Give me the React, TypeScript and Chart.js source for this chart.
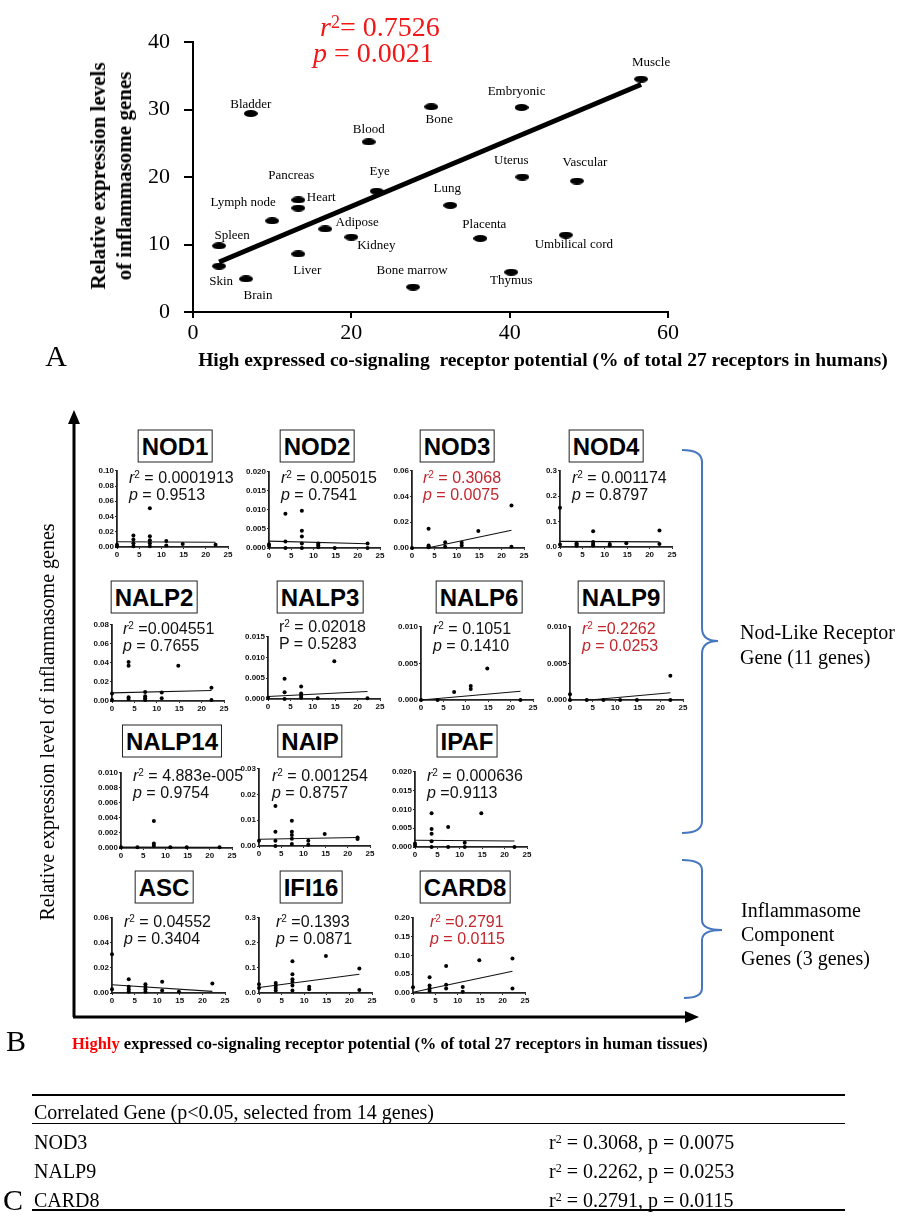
import React, { useEffect, useRef } from 'react';
import { Chart, registerables } from 'chart.js';

Chart.register(...registerables);

const SERIF = '"Liberation Serif", "Times New Roman", Times, serif';
const SANS = '"Liberation Sans", Arial, Helvetica, sans-serif';
const RED_A = '#f01818';
const RED_B = '#c1272d';
const BLUE = '#4677c0';

// ---------------- Panel A data ----------------
const tissueNames = ['Muscle', 'Embryonic', 'Bone', 'Bladder', 'Blood', 'Uterus', 'Vascular', 'Eye', 'Heart', 'Pancreas', 'Lung', 'Lymph node', 'Adipose', 'Kidney', 'Placenta', 'Umbilical cord', 'Spleen', 'Liver', 'Skin', 'Brain', 'Thymus', 'Bone marrow'];
const receptorPotential = [56.6, 41.5, 30.1, 7.3, 22.2, 41.6, 48.5, 23.2, 13.3, 13.3, 32.5, 10.0, 16.7, 20.0, 36.3, 47.1, 3.3, 13.3, 3.3, 6.7, 40.2, 27.8];
const inflammasomeLevel = [34.5, 30.3, 30.4, 29.4, 25.2, 20.0, 19.4, 17.9, 16.6, 15.4, 15.8, 13.5, 12.3, 11.1, 10.9, 11.4, 9.8, 8.6, 6.8, 4.9, 5.9, 3.7];
const fitLineX = [3.3, 56.6];
const fitLineY = [7.4, 33.7];
const panelAXTicks = [0, 20, 40, 60];
const panelAYTicks = [0, 10, 20, 30, 40];

// label offsets in px (layout only)
const tissueLabelOffsets: [number, number][] = [
  [10, -17], [-5, -16], [8, 13], [0, -9], [0, -12], [-11, -16], [8, -18], [3, -20], [23, -2], [-7, -32],
  [-3, -17], [-29, -18], [32, -6], [25, 9], [4, -14], [8, 10], [13, -10], [9, 17], [2, 15], [12, 17], [0, 8], [-1, -16],
];

// ---------------- Panel B data ----------------
const geneNames = ['NOD1', 'NOD2', 'NOD3', 'NOD4', 'NALP2', 'NALP3', 'NALP6', 'NALP9', 'NALP14', 'NAIP', 'IPAF', 'ASC', 'IFI16', 'CARD8'];
const geneR2Text = [' = 0.0001913', ' = 0.005015', ' = 0.3068', ' = 0.001174', ' =0.004551', ' = 0.02018', ' = 0.1051', ' =0.2262', ' = 4.883e-005', ' = 0.001254', ' = 0.000636', ' = 0.04552', ' =0.1393', ' =0.2791'];
const genePText = [' = 0.9513', ' = 0.7541', ' = 0.0075', ' = 0.8797', ' = 0.7655', ' = 0.5283', ' = 0.1410', ' = 0.0253', ' = 0.9754', ' = 0.8757', ' =0.9113', ' = 0.3404', ' = 0.0871', ' = 0.0115'];
const genePLetter = ['p', 'p', 'p', 'p', 'p', 'P', 'p', 'p', 'p', 'p', 'p', 'p', 'p', 'p'];
const geneSignificant = [false, false, true, false, false, false, false, true, false, false, false, false, false, true];
const geneYMax = [0.10, 0.020, 0.06, 0.3, 0.08, 0.015, 0.010, 0.010, 0.010, 0.03, 0.020, 0.06, 0.3, 0.20];
const geneYStep = [0.02, 0.005, 0.02, 0.1, 0.02, 0.005, 0.005, 0.005, 0.002, 0.01, 0.005, 0.02, 0.1, 0.05];
const smallXTicks = [0, 5, 10, 15, 20, 25];

const nod1X = [0, 0, 3.7, 3.7, 3.7, 3.7, 7.4, 7.4, 7.4, 7.4, 7.4, 11.1, 11.1, 14.8, 22.2];
const nod1Y = [0.003, 0.001, 0.015, 0.010, 0.005, 0.001, 0.051, 0.014, 0.009, 0.005, 0.001, 0.008, 0.002, 0.004, 0.003];
const nod2X = [0, 0, 3.7, 3.7, 3.7, 7.4, 7.4, 7.4, 7.4, 7.4, 11.1, 11.1, 11.1, 14.8, 22.2, 22.2];
const nod2Y = [0.0005, 0.001, 0.009, 0.0017, 0, 0.0098, 0.0045, 0.003, 0.0012, 0, 0.0012, 0.0007, 0.0002, 0, 0.0012, 0];
const nod3X = [0, 3.7, 3.7, 3.7, 3.7, 7.4, 7.4, 11.1, 11.1, 14.8, 22.2, 22.2];
const nod3Y = [0, 0.015, 0.002, 0.001, 0.0005, 0.0044, 0.001, 0.004, 0.002, 0.0132, 0.033, 0.001];
const nod4X = [0, 0, 3.7, 3.7, 3.7, 7.4, 7.4, 7.4, 7.4, 11.1, 11.1, 14.8, 22.2, 22.2];
const nod4Y = [0.155, 0.01, 0.015, 0.01, 0.005, 0.062, 0.02, 0.012, 0.006, 0.012, 0.006, 0.015, 0.065, 0.012];
const nalp2X = [0, 0, 3.7, 3.7, 3.7, 3.7, 7.4, 7.4, 7.4, 7.4, 11.1, 11.1, 14.8, 22.2, 22.2];
const nalp2Y = [0.008, 0.001, 0.041, 0.037, 0.004, 0.002, 0.0095, 0.005, 0.003, 0.001, 0.009, 0.003, 0.037, 0.014, 0.001];
const nalp3X = [0, 3.7, 3.7, 3.7, 7.4, 7.4, 7.4, 7.4, 11.1, 14.8, 22.2];
const nalp3Y = [0.0003, 0.0049, 0.0016, 0, 0.003, 0.0013, 0.0008, 0.0003, 0.0002, 0.0091, 0.0002];
const nalp6X = [0, 3.7, 7.4, 11.1, 11.1, 14.8, 22.2];
const nalp6Y = [0, 0, 0.0011, 0.0019, 0.0015, 0.0043, 0];
const nalp9X = [0, 0, 3.7, 7.4, 11.1, 14.8, 22.2, 22.2];
const nalp9Y = [0.0008, 0, 0, 0, 0, 0, 0.0033, 0];
const nalp14X = [0, 3.7, 7.4, 7.4, 7.4, 11.1, 14.8, 22.2];
const nalp14Y = [0.0001, 0.0001, 0.0036, 0.0006, 0.0003, 0.0001, 0.0001, 0.0001];
const naipX = [0, 3.7, 3.7, 3.7, 3.7, 7.4, 7.4, 7.4, 7.4, 7.4, 11.1, 11.1, 14.8, 22.2, 22.2];
const naipY = [0.002, 0.0155, 0.0055, 0.002, 0, 0.0098, 0.0055, 0.0043, 0.0028, 0.0008, 0.002, 0.0005, 0.0047, 0.0033, 0.0027];
const ipafX = [0, 0, 3.7, 3.7, 3.7, 3.7, 3.7, 7.4, 7.4, 11.1, 11.1, 14.8, 22.2];
const ipafY = [0.0009, 0.0004, 0.009, 0.0048, 0.0035, 0.0015, 0, 0.0053, 0, 0.0011, 0, 0.009, 0];
const ascX = [0, 0, 3.7, 3.7, 3.7, 3.7, 7.4, 7.4, 7.4, 7.4, 11.1, 11.1, 14.8, 22.2];
const ascY = [0.031, 0.003, 0.011, 0.005, 0.003, 0.001, 0.007, 0.005, 0.003, 0.001, 0.009, 0.002, 0.001, 0.0075];
const ifi16X = [0, 0, 3.7, 3.7, 3.7, 3.7, 7.4, 7.4, 7.4, 7.4, 7.4, 7.4, 11.1, 11.1, 14.8, 22.2, 22.2];
const ifi16Y = [0.035, 0.02, 0.04, 0.03, 0.02, 0.01, 0.127, 0.075, 0.055, 0.045, 0.03, 0.01, 0.025, 0.015, 0.148, 0.098, 0.012];
const card8X = [0, 3.7, 3.7, 3.7, 3.7, 7.4, 7.4, 7.4, 11.1, 11.1, 14.8, 22.2, 22.2];
const card8Y = [0.015, 0.042, 0.02, 0.012, 0.005, 0.072, 0.022, 0.012, 0.016, 0.003, 0.087, 0.092, 0.012];

const geneXs = [nod1X, nod2X, nod3X, nod4X, nalp2X, nalp3X, nalp6X, nalp9X, nalp14X, naipX, ipafX, ascX, ifi16X, card8X];
const geneYs = [nod1Y, nod2Y, nod3Y, nod4Y, nalp2Y, nalp3Y, nalp6Y, nalp9Y, nalp14Y, naipY, ipafY, ascY, ifi16Y, card8Y];

// regression line end points (x and y)
const geneFitX = [[0, 22.2], [0, 22.2], [3.7, 22.2], [0, 22.2], [0, 22.2], [0, 22.2], [0, 22.2], [4.4, 22.2], [0, 22.2], [0, 22.2], [0, 22.2], [0, 22.2], [0, 22.2], [0, 22.2]];
const geneFitY = [[0.0068, 0.0063], [0.0018, 0.0011], [0.0002, 0.0138], [0.022, 0.020], [0.0085, 0.011], [0.0006, 0.0018], [0, 0.0012], [0, 0.001], [0.00012, 0.0001], [0.0026, 0.0033], [0.0018, 0.0016], [0.0066, 0.0013], [0.022, 0.075], [0.002, 0.058]];

// ---------------- Panel C data ----------------
const tableGenes = ['NOD3', 'NALP9', 'CARD8'];
const tableR2 = ['0.3068', '0.2262', '0.2791'];
const tableP = ['0.0075', '0.0253', '0.0115'];

// ---------------- layout (px) ----------------
// [axisLeft, axisRight, plotTop, plotBottom]
const plotBoxes: number[][] = [
  [117, 228, 470, 547], [269, 380, 471, 548], [412, 524, 470, 548], [560, 672, 470, 547],
  [112, 224, 624, 701], [268, 380, 636, 699], [421, 533, 626, 700], [570, 683, 626, 700],
  [121, 232, 772, 848], [259, 370, 768, 846], [415, 527, 771, 847],
  [112, 225, 917, 993], [259, 372, 917, 993], [413, 525, 917, 993],
];
const titleCenters: number[][] = [
  [175, 446], [317, 446], [457, 446], [606, 446],
  [154, 597], [320, 597], [479, 597], [621, 597],
  [172, 741], [310, 741], [467, 741],
  [164, 887], [311, 887], [465, 887],
];
const statsPos: number[][] = [
  [129, 477], [281, 477], [423, 477], [572, 477],
  [123, 628], [279, 626], [433, 628], [582, 628],
  [133, 775], [272, 775], [427, 775],
  [124, 921], [276, 921], [430, 921],
];

const SL = 30, ST = 5, SR = 8, SB = 14;

function decimalsOf(s: number) {
  return (String(s).split('.')[1] || '').length;
}

function makeEllipse(w: number, h: number) {
  const c = document.createElement('canvas');
  c.width = w;
  c.height = h;
  const ctx = c.getContext('2d')!;
  ctx.fillStyle = '#000';
  ctx.beginPath();
  ctx.ellipse(w / 2, h / 2, w / 2, h / 2, 0, 0, Math.PI * 2);
  ctx.fill();
  return c;
}

function PanelA() {
  const ref = useRef<HTMLCanvasElement>(null);
  useEffect(() => {
    const ell = makeEllipse(14, 7);
    const labelPlugin = {
      id: 'tissueLabels',
      afterDatasetsDraw(chart: any) {
        const meta = chart.getDatasetMeta(0);
        const ctx = chart.ctx;
        ctx.save();
        ctx.font = `13px ${SERIF}`;
        ctx.fillStyle = '#000';
        ctx.textAlign = 'center';
        ctx.textBaseline = 'middle';
        meta.data.forEach((el: any, k: number) => {
          const [dx, dy] = tissueLabelOffsets[k];
          ctx.fillText(tissueNames[k], el.x + dx, el.y + dy);
        });
        ctx.restore();
      },
    };
    const chart = new Chart(ref.current!, {
      type: 'scatter',
      data: {
        datasets: [
          {
            data: receptorPotential.map((x, k) => ({ x, y: inflammasomeLevel[k] })),
            pointStyle: ell as any,
            pointRadius: 7,
            backgroundColor: '#000',
            borderWidth: 0,
            clip: false as any,
          },
          {
            data: fitLineX.map((x, k) => ({ x, y: fitLineY[k] })),
            showLine: true,
            borderColor: '#000',
            borderWidth: 5,
            pointRadius: 0,
            clip: false as any,
          },
        ],
      },
      options: {
        responsive: false,
        animation: false,
        layout: { padding: { top: 42, right: 235, left: 0, bottom: 0 } },
        plugins: { legend: { display: false }, tooltip: { enabled: false } },
        scales: {
          x: {
            type: 'linear',
            min: 0,
            max: 60,
            afterBuildTicks: (s: any) => { s.ticks = panelAXTicks.map((v) => ({ value: v })); },
            afterFit: (s: any) => { s.height = 68; },
            grid: { display: true, drawOnChartArea: false, drawTicks: true, tickLength: 6, color: '#000', lineWidth: 2 },
            border: { display: true, color: '#000', width: 2 },
            ticks: { font: { family: SERIF, size: 22 }, color: '#000', padding: 2, maxRotation: 0, autoSkip: false },
          },
          y: {
            type: 'linear',
            min: 0,
            max: 40,
            afterBuildTicks: (s: any) => { s.ticks = panelAYTicks.map((v) => ({ value: v })); },
            afterFit: (s: any) => { s.width = 193; },
            grid: { display: true, drawOnChartArea: false, drawTicks: true, tickLength: 9, color: '#000', lineWidth: 2 },
            border: { display: true, color: '#000', width: 2 },
            ticks: { font: { family: SERIF, size: 22 }, color: '#000', padding: 14, autoSkip: false },
          },
        },
      },
      plugins: [labelPlugin],
    });
    return () => chart.destroy();
  }, []);
  return (
    <canvas ref={ref} width={903} height={380} style={{ position: 'absolute', left: 0, top: 0, width: 903, height: 380 }} />
  );
}

function GenePlot({ i }: { i: number }) {
  const ref = useRef<HTMLCanvasElement>(null);
  const [left, right, top, bottom] = plotBoxes[i];
  const w = SL + (right - left) + SR;
  const h = ST + (bottom - top) + SB;
  useEffect(() => {
    const step = geneYStep[i];
    const max = geneYMax[i];
    const dec = decimalsOf(step);
    const yTicks: number[] = [];
    for (let k = 0; k * step <= max + 1e-9; k++) yTicks.push(+(k * step).toFixed(6));
    const tickFont = { family: SANS, size: 8, weight: 'bold' as const };
    const chart = new Chart(ref.current!, {
      type: 'scatter',
      data: {
        datasets: [
          {
            data: geneXs[i].map((x, k) => ({ x, y: geneYs[i][k] })),
            pointRadius: 2,
            pointStyle: 'circle',
            backgroundColor: '#000',
            borderWidth: 0,
            clip: false as any,
          },
          {
            data: geneFitX[i].map((x, k) => ({ x, y: geneFitY[i][k] })),
            showLine: true,
            borderColor: '#111',
            borderWidth: 1.1,
            pointRadius: 0,
            clip: false as any,
          },
        ],
      },
      options: {
        responsive: false,
        animation: false,
        layout: { padding: { top: ST, right: SR, left: 0, bottom: 0 } },
        plugins: { legend: { display: false }, tooltip: { enabled: false } },
        scales: {
          x: {
            type: 'linear',
            min: 0,
            max: 25,
            afterBuildTicks: (s: any) => { s.ticks = smallXTicks.map((v) => ({ value: v })); },
            afterFit: (s: any) => { s.height = SB; },
            grid: { display: true, drawOnChartArea: false, drawTicks: true, tickLength: 2, color: '#222', lineWidth: 1 },
            border: { display: true, color: '#222', width: 1.8 },
            ticks: { font: tickFont, color: '#111', padding: 1, maxRotation: 0, autoSkip: false },
          },
          y: {
            type: 'linear',
            min: 0,
            max: max,
            afterBuildTicks: (s: any) => { s.ticks = yTicks.map((v) => ({ value: v })); },
            afterFit: (s: any) => { s.width = SL; },
            grid: { display: true, drawOnChartArea: false, drawTicks: true, tickLength: 2, color: '#222', lineWidth: 1 },
            border: { display: true, color: '#222', width: 1.8 },
            ticks: {
              font: tickFont,
              color: '#111',
              padding: 1,
              autoSkip: false,
              callback: (v: any) => Number(v).toFixed(dec),
            },
          },
        },
      },
    });
    return () => chart.destroy();
  }, [i]);
  return (
    <canvas ref={ref} width={w} height={h} style={{ position: 'absolute', left: left - SL, top: top - ST, width: w, height: h }} />
  );
}

const sup = (size: string) => ({ fontSize: size, position: 'relative' as const, top: '-0.45em', lineHeight: 0 });

function GeneTexts({ i }: { i: number }) {
  const [cx, cy] = titleCenters[i];
  const [sx, sy] = statsPos[i];
  const color = geneSignificant[i] ? RED_B : '#111';
  const upright = genePLetter[i] === 'P';
  return (
    <>
      <div
        style={{
          position: 'absolute',
          left: cx,
          top: cy,
          transform: 'translate(-50%, -50%)',
          border: '1.5px solid #222',
          padding: '1px 3px',
          font: `bold 24px ${SANS}`,
          lineHeight: '29px',
          color: '#000',
          whiteSpace: 'nowrap',
          background: '#fff',
        }}
      >
        {geneNames[i]}
      </div>
      <div
        style={{
          position: 'absolute',
          left: sx,
          top: sy - 8.5,
          font: `16px ${SANS}`,
          lineHeight: '17px',
          color,
          whiteSpace: 'pre',
        }}
      >
        <div>
          <span style={{ fontStyle: upright ? 'normal' : 'italic' }}>r</span>
          <span style={sup('10px')}>2</span>
          {geneR2Text[i]}
        </div>
        <div>
          <span style={{ fontStyle: upright ? 'normal' : 'italic' }}>{genePLetter[i]}</span>
          {genePText[i]}
        </div>
      </div>
    </>
  );
}

function CenterText({ x, y, size, children, style }: any) {
  const lh = Math.round(size * 1.15);
  return (
    <div
      style={{
        position: 'absolute',
        left: x - 500,
        width: 1000,
        top: y - lh / 2,
        textAlign: 'center',
        fontSize: size,
        lineHeight: `${lh}px`,
        whiteSpace: 'pre',
        ...style,
      }}
    >
      {children}
    </div>
  );
}

function LeftText({ x, y, size, children, style }: any) {
  const lh = Math.round(size * 1.15);
  return (
    <div
      style={{
        position: 'absolute',
        left: x,
        top: y - lh / 2,
        fontSize: size,
        lineHeight: `${lh}px`,
        whiteSpace: 'pre',
        ...style,
      }}
    >
      {children}
    </div>
  );
}

export default function App() {
  return (
    <div
      style={{
        position: 'absolute',
        left: 0,
        top: 0,
        width: 903,
        height: 1221,
        background: '#fff',
        overflow: 'hidden',
        fontFamily: SERIF,
        color: '#000',
      }}
    >
      <PanelA />
      {geneNames.map((g, i) => (
        <GenePlot key={g} i={i} />
      ))}

      {/* Panel A texts */}
      <LeftText x={320} y={27} size={28} style={{ color: RED_A, fontFamily: SERIF }}>
        <i>r</i>
        <span style={sup('18px')}>2</span>= 0.7526
      </LeftText>
      <LeftText x={313} y={53} size={28} style={{ color: RED_A, fontFamily: SERIF }}>
        <i>p</i> = 0.0021
      </LeftText>
      <div
        style={{
          position: 'absolute',
          left: 111,
          top: 176,
          transform: 'translate(-50%, -50%) rotate(-90deg)',
          font: `bold 21px ${SERIF}`,
          lineHeight: '26px',
          textAlign: 'center',
          whiteSpace: 'nowrap',
        }}
      >
        <div>Relative expression levels</div>
        <div>of inflammasome genes</div>
      </div>
      <CenterText x={543} y={360} size={19.5} style={{ fontWeight: 'bold' }}>
        {'High expressed co-signaling  receptor potential (% of total 27 receptors in humans)'}
      </CenterText>
      <CenterText x={56} y={355} size={30}>A</CenterText>

      {/* Panel B decorations */}
      <svg width={903} height={1221} style={{ position: 'absolute', left: 0, top: 0, pointerEvents: 'none' }}>
        <line x1={74} y1={1017} x2={74} y2={420} stroke="#000" strokeWidth={3} />
        <polygon points="74,410 68,424 80,424" fill="#000" />
        <line x1={73} y1={1017} x2={688} y2={1017} stroke="#000" strokeWidth={3} />
        <polygon points="699,1017 685,1011 685,1023" fill="#000" />
        <path
          d="M682,450 Q702,450 702,462 L702,628 Q702,641 718,641 Q702,641 702,654 L702,821 Q702,833 682,833"
          fill="none"
          stroke={BLUE}
          strokeWidth={2}
        />
        <path
          d="M682,860 Q702,860 702,870 L702,920 Q702,930 722,930 Q702,930 702,940 L702,988 Q702,998 684,998"
          fill="none"
          stroke={BLUE}
          strokeWidth={2}
        />
      </svg>

      {geneNames.map((g, i) => (
        <GeneTexts key={g + 't'} i={i} />
      ))}

      <div
        style={{
          position: 'absolute',
          left: 47,
          top: 722,
          transform: 'translate(-50%, -50%) rotate(-90deg)',
          font: `20px ${SERIF}`,
          lineHeight: '22px',
          whiteSpace: 'nowrap',
        }}
      >
        Relative expression level of inflammasome genes
      </div>
      <LeftText x={740} y={632} size={20}>Nod-Like Receptor</LeftText>
      <LeftText x={740} y={657} size={20}>Gene (11 genes)</LeftText>
      <LeftText x={741} y={910} size={20}>Inflammasome</LeftText>
      <LeftText x={741} y={934} size={20}>Component</LeftText>
      <LeftText x={741} y={958} size={20}>Genes (3 genes)</LeftText>
      <CenterText x={16} y={1040} size={30}>B</CenterText>
      <LeftText x={72} y={1043} size={16.5} style={{ fontWeight: 'bold' }}>
        <span style={{ color: '#f00' }}>Highly</span>
        {' expressed co-signaling receptor potential (% of total 27 receptors in human tissues)'}
      </LeftText>

      {/* Panel C table */}
      <div style={{ position: 'absolute', left: 32, top: 1094, width: 813, height: 2, background: '#000' }} />
      <LeftText x={34} y={1112} size={20}>Correlated Gene (p&lt;0.05, selected from 14 genes)</LeftText>
      <div style={{ position: 'absolute', left: 32, top: 1123, width: 813, height: 1, background: '#000' }} />
      {tableGenes.map((g, k) => (
        <React.Fragment key={g}>
          <LeftText x={34} y={1142 + k * 29} size={20}>{g}</LeftText>
          <LeftText x={549} y={1142 + k * 29} size={20}>
            r<span style={sup('12px')}>2</span>
            {` = ${tableR2[k]}, p = ${tableP[k]}`}
          </LeftText>
        </React.Fragment>
      ))}
      <div style={{ position: 'absolute', left: 32, top: 1209, width: 813, height: 2, background: '#000' }} />
      <CenterText x={13} y={1199} size={30}>C</CenterText>
    </div>
  );
}
